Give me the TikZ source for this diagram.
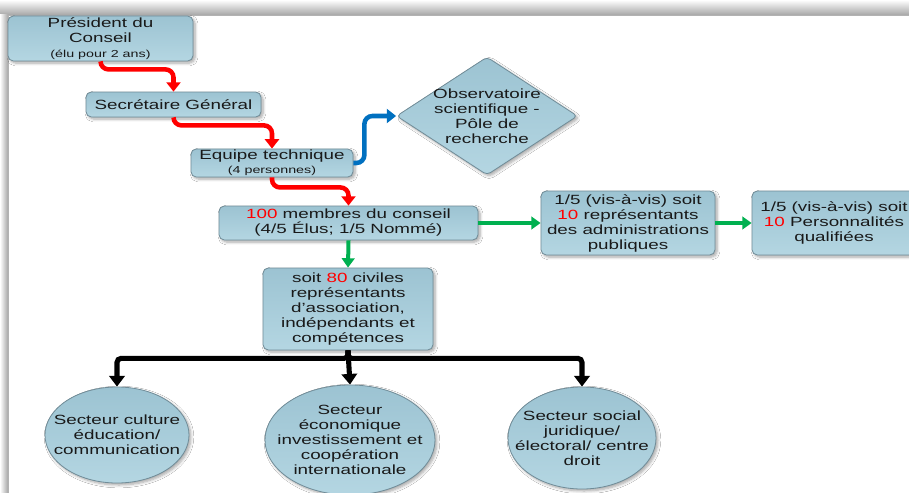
\documentclass[tikz,border=0pt]{standalone}
\usepackage{fontspec}
\setmainfont{Liberation Sans}[FakeStretch=1.41]
\usetikzlibrary{arrows.meta}
\usetikzlibrary{shapes.geometric}
\usetikzlibrary{shadows.blur}
\definecolor{boxtop}{RGB}{156,195,210}
\definecolor{boxbot}{RGB}{180,214,226}
\definecolor{boxline}{RGB}{112,140,152}
\definecolor{lnred}{RGB}{255,0,0}
\definecolor{lnblue}{RGB}{0,112,192}
\definecolor{lngreen}{RGB}{0,176,80}
\newcommand{\nb}[1]{\textcolor{lnred}{#1}}
\newcommand{\petit}{\fontsize{7.6pt}{9pt}\selectfont}
\newcommand{\normal}{\fontsize{10pt}{11.25pt}\selectfont}

\begin{document}
\begin{tikzpicture}[x=0.75pt,y=0.75pt,yscale=-1,xscale=1,
  base/.style={draw=boxline,line width=0.6pt,top color=boxtop,bottom color=boxbot,
    blur shadow={shadow xshift=1.5pt,shadow yshift=-1.5pt,shadow blur steps=6,shadow opacity=35}},
  boite/.style={base,rectangle,rounded corners=4pt,align=center,inner sep=1pt,text=black!90,font=\normal},
  oval/.style={base,ellipse,inner sep=0pt},
  losange/.style={base,diamond,inner sep=0pt,rounded corners=3pt},
  txt/.style={align=center,inner sep=0pt,text=black!90,font=\normal},
  redarr/.style={draw=lnred,line width=3.4pt,rounded corners=6pt,-{Triangle[width=10.5pt,length=7pt]}},
  bluearr/.style={draw=lnblue,line width=3.4pt,rounded corners=6pt,-{Triangle[width=10.5pt,length=7pt]}},
  greenarr/.style={draw=lngreen,line width=3pt,-{Triangle[width=9.5pt,length=7pt]}},
  busarr/.style={draw=black,line width=3.8pt,rounded corners=3pt,-{Triangle[width=11.5pt,length=8pt]}}]
\useasboundingbox (0,0) rectangle (909,492);

%Shape: page and its shadow
\shade[top color=white,bottom color=black!35] (0,0) rectangle (909,15);
\shade[left color=white,right color=black!35] (0,15) rectangle (8,492);
\draw[draw=black!30,fill=white] (8,15) rectangle (912,495);

%Shape: Rectangle boxes
\node[boite,minimum width=138.75pt,minimum height=33.75pt] (pres) at (100.5,38.5)
  {Président du\\Conseil\\{\petit (élu pour 2 ans)}};
\node[boite,minimum width=131.25pt,minimum height=18.75pt] (sec) at (173.5,104.5)
  {Secrétaire Général};
\node[boite,minimum width=121.5pt,minimum height=21pt] (equipe) at (272,163)
  {Equipe technique\\[-1pt]{\petit (4 personnes)}};
\node[boite,minimum width=194.25pt,minimum height=25.5pt] (membres) at (348.5,223)
  {\nb{100} membres du conseil\\(4/5 Élus; 1/5 Nommé)};
\node[boite,minimum width=130.5pt,minimum height=48pt] (adm) at (628,223)
  {1/5 (vis-à-vis) soit\\\nb{10} représentants\\des administrations\\publiques};
\node[boite,minimum width=123pt,minimum height=48pt] (pers) at (834,223)
  {1/5 (vis-à-vis) soit\\\nb{10} Personnalités\\qualifiées};
\node[boite,minimum width=127.5pt,minimum height=61.5pt] (soit) at (348,309)
  {soit \nb{80} civiles\\représentants\\d’association,\\indépendants et\\compétences};

%Shape: Diamond
\node[losange,minimum width=135.75pt,minimum height=88.5pt] (obs) at (487,116) {};
\node[txt] (obs-t) at (obs) {Observatoire\\scientifique -\\Pôle de\\recherche};

%Shape: Ellipses
\node[oval,minimum width=108pt,minimum height=72pt] (e1) at (117,435) {};
\node[txt] (e1-t) at (e1) {Secteur culture\\éducation/\\communication};
\node[oval,minimum width=127.5pt,minimum height=82.5pt] (e2) at (350,440) {};
\node[txt] (e2-t) at (e2) {Secteur\\économique\\investissement et\\coopération\\internationale};
\node[oval,minimum width=111pt,minimum height=76.5pt] (e3) at (582,438) {};
\node[txt] (e3-t) at (e3) {Secteur social\\juridique/\\électoral/ centre\\droit};

% Connectors
\draw[redarr] (pres.south) -- ++(0,8) -| (sec.north);
\draw[redarr] (sec.south) -- ++(0,8) -| (equipe.north);
\draw[redarr] (equipe.south) -- ++(0,10) -| (membres.north);
\draw[bluearr] (equipe.east) -- ++(11,0) |- (obs.west);
\draw[greenarr] (membres.east) -- (adm.west);
\draw[greenarr] (adm.east) -- (pers.west);
\draw[greenarr] (membres.south) -- (soit.north);
\draw[busarr] (soit.south) -- ++(0,8) -| (e1.north);
\draw[busarr] (soit.south) -- ++(0,8) -| (e3.north);
\draw[busarr] (soit.south) -- (e2.north);

\end{tikzpicture}
\end{document}
